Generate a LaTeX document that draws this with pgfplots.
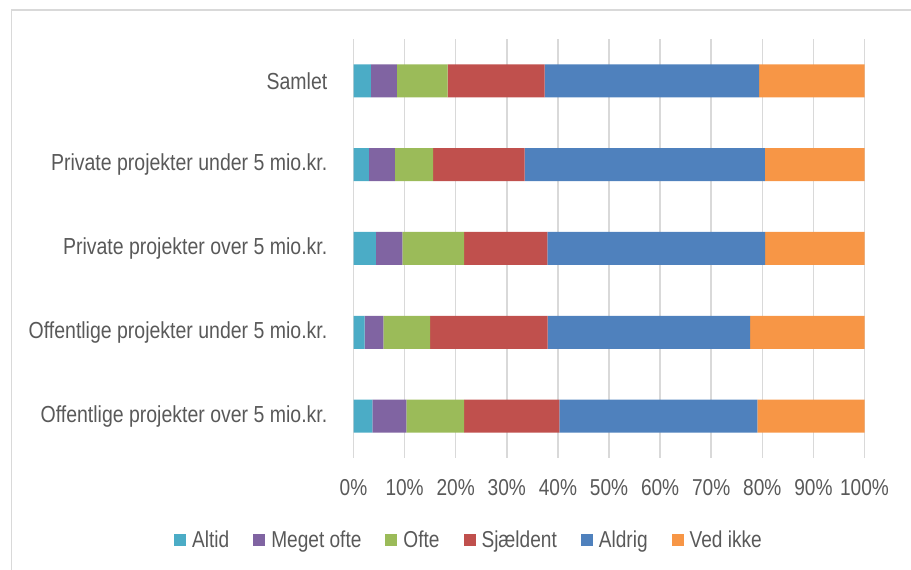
\documentclass[border=0pt]{standalone}
\usepackage{pgfplots}
\pgfplotsset{compat=1.18}
\usepackage{fontspec}
\setmainfont{Liberation Sans}[FakeStretch=0.83]
\newfontfamily\catfont{Liberation Sans}[FakeStretch=0.84]
\definecolor{cAltid}{HTML}{4BACC6}
\definecolor{cMeget}{HTML}{8064A2}
\definecolor{cOfte}{HTML}{9BBB59}
\definecolor{cSjaeld}{HTML}{C0504D}
\definecolor{cAldrig}{HTML}{4F81BD}
\definecolor{cVed}{HTML}{F79646}
\definecolor{txt}{HTML}{595959}
\definecolor{gridc}{HTML}{D9D9D9}
\begin{document}
\begin{tikzpicture}[x=1bp,y=1bp]
\useasboundingbox (0,0) rectangle (911,570);
\draw[gridc, line width=1.5bp] (11.5,0) -- (11.5,560) -- (911,560);
\begin{axis}[
  at={(353.5bp,112bp)}, anchor=south west,
  scale only axis, width=511bp, height=419bp,
  xbar stacked, bar width=33bp,
  xmin=0, xmax=100, ymin=-0.5, ymax=4.5,
  xtick={0,10,...,100},
  xticklabels={0\%,10\%,20\%,30\%,40\%,50\%,60\%,70\%,80\%,90\%,100\%},
  ytick={0,1,2,3,4},
  yticklabels={Offentlige projekter over 5 mio.kr.,Offentlige projekter under 5 mio.kr.,Private projekter over 5 mio.kr.,Private projekter under 5 mio.kr.,Samlet},
  axis line style={draw=none},
  major tick length=0pt,
  xmajorgrids, major grid style={gridc, line width=1.5bp},
  tick label style={font=\fontsize{23bp}{27bp}\selectfont, text=txt, inner sep=0pt},
  yticklabel style={anchor=east, xshift=-26bp, font=\catfont\fontsize{23.2bp}{27bp}\selectfont},
  xticklabel style={anchor=north, yshift=-21bp},
  legend columns=6,
  legend style={draw=none, fill=none, at={(0.226,-0.1957)}, anchor=center,
    font=\fontsize{23bp}{27bp}\selectfont, text=txt, inner sep=0pt,
    /tikz/every odd column/.append style={column sep=4bp},
    /tikz/every even column/.append style={column sep=22bp}},
  legend image code/.code={\fill[#1] (0bp,-6bp) rectangle (12bp,6bp);},
]
\addplot[fill=cAltid, draw=none] coordinates {(3.4,4) (3.0,3) (4.4,2) (2.2,1) (3.7,0)};
\addplot[fill=cMeget, draw=none] coordinates {(5.1,4) (5.1,3) (5.15,2) (3.65,1) (6.65,0)};
\addplot[fill=cOfte, draw=none] coordinates {(9.9,4) (7.5,3) (12.1,2) (9.15,1) (11.3,0)};
\addplot[fill=cSjaeld, draw=none] coordinates {(19.0,4) (17.9,3) (16.3,2) (23.0,1) (18.65,0)};
\addplot[fill=cAldrig, draw=none] coordinates {(42.0,4) (47.0,3) (42.6,2) (39.6,1) (38.75,0)};
\addplot[fill=cVed, draw=none] coordinates {(20.6,4) (19.5,3) (19.45,2) (22.4,1) (20.95,0)};
\legend{Altid,Meget ofte,Ofte,Sjældent,Aldrig,Ved ikke}
\end{axis}
\end{tikzpicture}
\end{document}
